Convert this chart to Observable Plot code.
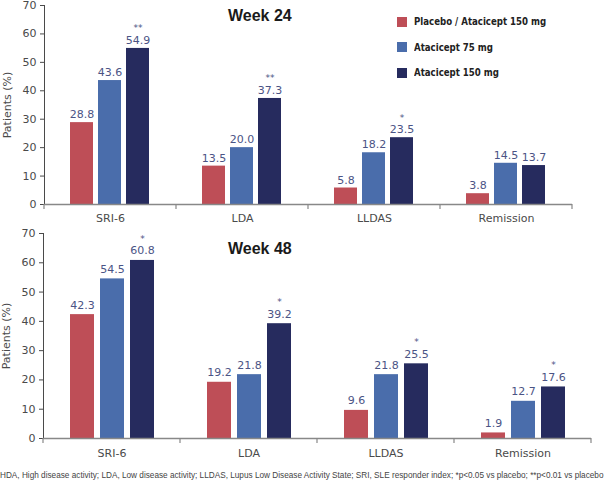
<!DOCTYPE html>
<html>
<head>
<meta charset="utf-8">
<script src="https://cdn.jsdelivr.net/npm/d3@7"></script>
<script src="https://cdn.jsdelivr.net/npm/@observablehq/plot@0.6"></script>
<style>
  body { margin: 0; background: #fff; }
  #wrap { position: relative; width: 612px; height: 491px; font-family: "DejaVu Sans", sans-serif; overflow: hidden; }
  .chart { position: absolute; left: 0; }
  .week { position: absolute; left: 228px; font: bold 16px "Liberation Sans", Arial, sans-serif; color: #1a1a1a; white-space: nowrap; }
  .legend { position: absolute; left: 397px; top: 9px; font: bold 11px "DejaVu Sans Condensed", "DejaVu Sans", sans-serif; color: #222; }
  .legend .item { display: flex; align-items: center; height: 25.5px; white-space: nowrap; }
  .legend .sw { width: 10px; height: 10px; margin-right: 7px; flex: none; }
  .legend .tx { display: inline-block; transform: scaleX(0.87); transform-origin: left center; }
  .foot { position: absolute; left: 0px; top: 470px; font: 8.22px "Liberation Sans", Arial, sans-serif; color: #444; white-space: nowrap; line-height: 12px; }
</style>
</head>
<body>
<div id="wrap"></div>
<script>
const categories = ["SRI-6", "LDA", "LLDAS", "Remission"];
const series = ["Placebo / Atacicept 150 mg", "Atacicept 75 mg", "Atacicept 150 mg"];
const colors = ["#be4e57", "#4a6dab", "#262b5e"];
const yTicks = [0, 10, 20, 30, 40, 50, 60, 70];

const week24Placebo = [28.8, 13.5, 5.8, 3.8];
const week24A75 = [43.6, 20.0, 18.2, 14.5];
const week24A150 = [54.9, 37.3, 23.5, 13.7];
const week24Sig150 = ["**", "**", "*", ""];

const week48Placebo = [42.3, 19.2, 9.6, 1.9];
const week48A75 = [54.5, 21.8, 21.8, 12.7];
const week48A150 = [60.8, 39.2, 25.5, 17.6];
const week48Sig150 = ["*", "*", "*", "*"];

const footnote = "HDA, High disease activity; LDA, Low disease activity; LLDAS, Lupus Low Disease Activity State; SRI, SLE responder index; *p<0.05 vs placebo; **p<0.01 vs placebo";

function rows(p, a75, a150, sig) {
  const out = [];
  categories.forEach((c, i) => {
    out.push({cat: c, series: series[0], value: p[i], sig: ""});
    out.push({cat: c, series: series[1], value: a75[i], sig: ""});
    out.push({cat: c, series: series[2], value: a150[i], sig: sig[i]});
  });
  return out;
}

function makeChart(data, o) {
  const plot = Plot.plot({
    width: 612,
    height: o.height,
    marginTop: o.mt,
    marginBottom: o.mb,
    marginLeft: o.ml,
    marginRight: o.mr,
    style: {fontFamily: "DejaVu Sans, sans-serif", fontSize: "11px", color: "#4a4a4a", background: "transparent", overflow: "visible"},
    fx: {domain: categories, padding: 0, axis: "bottom", label: null, tickSize: 0, tickPadding: o.fxPad},
    x: {domain: series, paddingInner: o.pi, paddingOuter: o.po, axis: null},
    y: {domain: [0, 70], ticks: yTicks, tickSize: 4, tickPadding: 4, line: true, label: "Patients (%)", labelAnchor: "center", labelArrow: "none", labelOffset: 41},
    color: {domain: series, range: colors},
    marks: [
      Plot.barY(data, {fx: "cat", x: "series", y: "value", fill: "series"}),
      Plot.text(data, {fx: "cat", x: "series", y: "value", text: d => d.value.toFixed(1), dy: o.dyVal, fill: "#4b5485", fontSize: 11}),
      Plot.text(data, {fx: "cat", x: "series", y: "value", text: "sig", dy: o.dySig, fill: "#4b5485", fontSize: 9}),
      Plot.ruleY([0], {stroke: "#888", strokeWidth: 1.5})
    ]
  });
  const fx = plot.scale("fx");
  const y0 = plot.scale("y").apply(0);
  const edges = categories.map(c => fx.apply(c)).concat([fx.apply(categories[categories.length - 1]) + fx.bandwidth]);
  const svg = d3.select(plot);
  svg.append("g").attr("stroke", "#888").attr("stroke-width", 1.2)
    .selectAll("line").data(edges).join("line")
    .attr("x1", d => d).attr("x2", d => d).attr("y1", y0).attr("y2", y0 + 5);
  return plot;
}

const wrap = document.getElementById("wrap");

const chartTop = makeChart(rows(week24Placebo, week24A75, week24A150, week24Sig150),
  {height: 224, mt: 5, mb: 20, ml: 42, mr: 39, pi: 0.17, po: 0.88, dyVal: -8, dySig: -20, fxPad: 10});
chartTop.classList.add("chart");
chartTop.style.top = "0px";
wrap.appendChild(chartTop);

const chartBottom = makeChart(rows(week48Placebo, week48A75, week48A150, week48Sig150),
  {height: 234, mt: 9, mb: 20, ml: 43, mr: 21, pi: 0.21, po: 0.85, dyVal: -9.5, dySig: -21.5, fxPad: 11});
chartBottom.classList.add("chart");
chartBottom.style.top = "224px";
wrap.appendChild(chartBottom);

const w24 = document.createElement("div");
w24.className = "week"; w24.style.top = "7px"; w24.textContent = "Week 24";
wrap.appendChild(w24);
const w48 = document.createElement("div");
w48.className = "week"; w48.style.top = "240px"; w48.textContent = "Week 48";
wrap.appendChild(w48);

const legend = document.createElement("div");
legend.className = "legend";
series.forEach((s, i) => {
  const it = document.createElement("div");
  it.className = "item";
  const sw = document.createElement("div");
  sw.className = "sw"; sw.style.background = colors[i];
  const tx = document.createElement("span");
  tx.className = "tx";
  tx.textContent = s;
  it.appendChild(sw); it.appendChild(tx);
  legend.appendChild(it);
});
wrap.appendChild(legend);

const foot = document.createElement("div");
foot.className = "foot";
foot.textContent = footnote;
wrap.appendChild(foot);
</script>
</body>
</html>
